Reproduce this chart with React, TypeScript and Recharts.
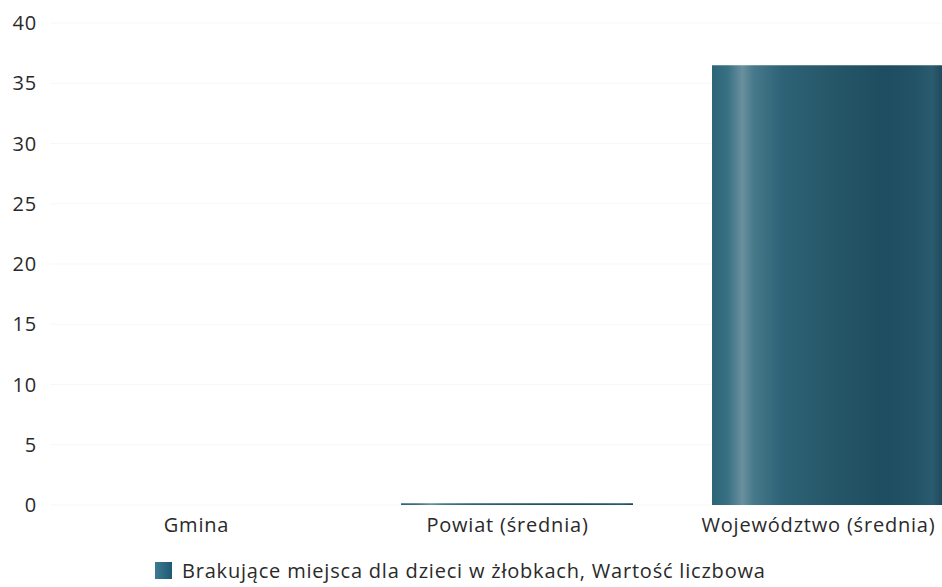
import React from 'react';
import { BarChart, Bar, XAxis, YAxis, CartesianGrid, Legend } from 'recharts';

const categories = ['Gmina', 'Powiat (średnia)', 'Województwo (średnia)'];
const values = [0, 0.15, 36.5];
const yTicks = [0, 5, 10, 15, 20, 25, 30, 35, 40];
const seriesName = 'Brakujące miejsca dla dzieci w żłobkach, Wartość liczbowa';

const data = categories.map((name, i) => ({ name, value: values[i] }));

const FONT = '"Open Sans", "DejaVu Sans", sans-serif';
const TEXT = '#2a2a2a';
const FS = 20;
const LS = 0.8;

const LegendContent = () => (
  <div style={{ display: 'flex', alignItems: 'center', fontFamily: FONT, fontSize: FS, letterSpacing: LS, color: TEXT, whiteSpace: 'nowrap' }}>
    <svg width={17} height={17} style={{ marginRight: 10 }}>
      <defs>
        <linearGradient id="legGrad" x1="0" y1="0" x2="1" y2="0">
          <stop offset="0%" stopColor="#3f7a93" />
          <stop offset="100%" stopColor="#1f5a75" />
        </linearGradient>
      </defs>
      <rect x={0} y={0} width={17} height={17} fill="url(#legGrad)" />
    </svg>
    <span>{seriesName}</span>
  </div>
);

export default function App() {
  return (
    <div style={{ position: 'absolute', left: 0, top: 0, width: 942, height: 587, overflow: 'hidden', background: '#fff' }}>
      <BarChart width={990} height={587} data={data} margin={{ top: 23, right: 7, left: 0, bottom: 42 }}>
        <defs>
          <linearGradient id="barGrad" x1="0" y1="0" x2="1" y2="0">
            <stop offset="0%" stopColor="#2b6577" />
            <stop offset="7%" stopColor="#3a7184" />
            <stop offset="13%" stopColor="#6a909e" />
            <stop offset="18%" stopColor="#46798a" />
            <stop offset="30%" stopColor="#2e6276" />
            <stop offset="50%" stopColor="#265869" />
            <stop offset="75%" stopColor="#1e4c60" />
            <stop offset="88%" stopColor="#235367" />
            <stop offset="95%" stopColor="#2a5b6e" />
            <stop offset="100%" stopColor="#1e4658" />
          </linearGradient>
        </defs>
        <CartesianGrid vertical={false} stroke="#f7f7f7" />
        <XAxis
          dataKey="name"
          axisLine={false}
          tickLine={false}
          height={40}
          tickMargin={7}
          interval={0}
          tick={{ fill: TEXT, fontSize: FS, fontFamily: FONT, letterSpacing: LS, dx: -9 }}
        />
        <YAxis
          width={50}
          domain={[0, 40]}
          ticks={yTicks}
          axisLine={false}
          tickLine={false}
          tickMargin={7}
          tick={{ fill: TEXT, fontSize: FS, fontFamily: FONT, letterSpacing: LS }}
        />
        <Legend
          verticalAlign="middle"
          layout="horizontal"
          content={LegendContent}
          wrapperStyle={{ left: 155, top: 557, width: 'auto' }}
        />
        <Bar dataKey="value" name={seriesName} barSize={232} fill="url(#barGrad)" isAnimationActive={false} />
      </BarChart>
    </div>
  );
}
